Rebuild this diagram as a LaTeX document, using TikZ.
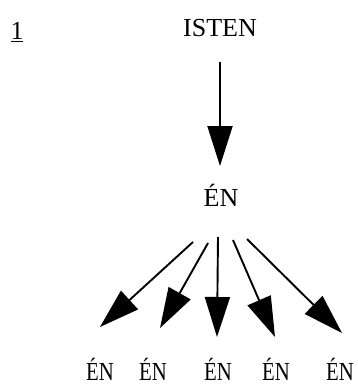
\documentclass[tikz,border=0pt]{standalone}
\usepackage{fontspec}
\setmainfont{Liberation Serif}
\usetikzlibrary{arrows.meta}
\begin{document}
\begin{tikzpicture}[x=1pt,y=-1pt,
  lbl/.style={font=\fontsize{26}{30}\selectfont, inner sep=0pt, anchor=base},
  sublbl/.style={lbl, xscale=0.8, transform shape},
  arr/.style={line width=1.9pt, -{Triangle[length=40pt,width=25pt]}}]
\useasboundingbox (0,0) rectangle (358,385);
\node[lbl] (num) at (17,40) {\underline{1}};
\node[lbl] (isten) at (220,37) {ISTEN};
\node[lbl] (en) at (221,206) {ÉN};
\node[sublbl] (e1) at (100,380) {ÉN};
\node[sublbl] (e2) at (153,380) {ÉN};
\node[sublbl] (e3) at (218,380) {ÉN};
\node[sublbl] (e4) at (276,380) {ÉN};
\node[sublbl] (e5) at (340,380) {ÉN};
\coordinate (s0) at (220,62);
\coordinate (t0) at (220,166);
\coordinate (s1) at (193,242);
\coordinate (t1) at (100,327);
\coordinate (s2) at (208,243);
\coordinate (t2) at (160,328);
\coordinate (s3) at (218,237);
\coordinate (t3) at (217,337);
\coordinate (s4) at (233,240);
\coordinate (t4) at (275,337);
\coordinate (s5) at (247,239);
\coordinate (t5) at (342,333);
\draw[arr] (s0) -- (t0);
\draw[arr] (s1) -- (t1);
\draw[arr] (s2) -- (t2);
\draw[arr] (s3) -- (t3);
\draw[arr] (s4) -- (t4);
\draw[arr] (s5) -- (t5);
\end{tikzpicture}
\end{document}
